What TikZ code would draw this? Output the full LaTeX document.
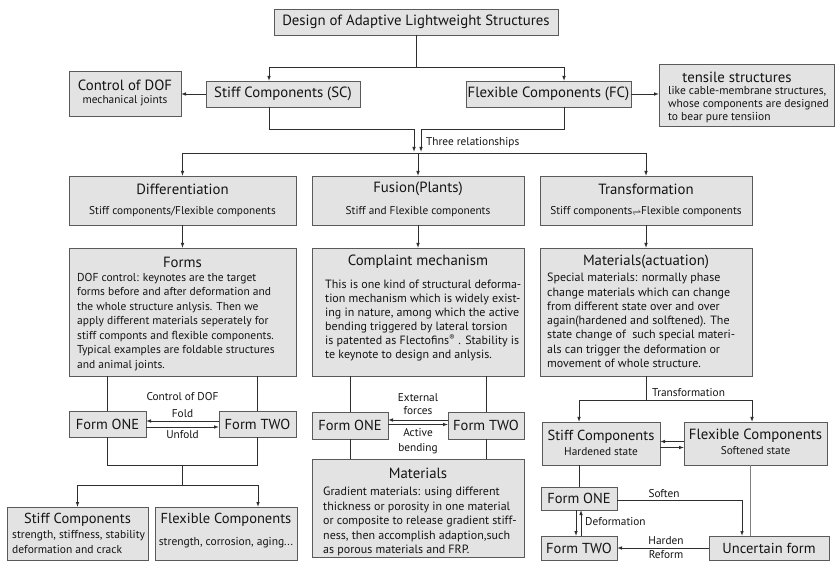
\documentclass[tikz,border=0pt]{standalone}
\usepackage{fontspec}
\usepackage{graphicx}
\setmainfont{PT Sans}
\usetikzlibrary{arrows.meta,calc}
\definecolor{boxfill}{HTML}{E3E3E3}
\definecolor{boxline}{HTML}{5A5A5A}
\definecolor{linecol}{HTML}{2E2E2E}
\definecolor{txtcol}{HTML}{141414}
\newcommand{\fsz}[2]{\fontsize{#1}{#2}\selectfont}
\begin{document}
\begin{tikzpicture}[x=1pt,y=-1pt,
  every node/.style={text=txtcol},
  box/.style={draw=boxline, fill=boxfill, line width=0.9pt, inner sep=0pt, outer sep=0pt, anchor=north west},
  ttl/.style={inner sep=0pt, font=\fsz{14.8}{16}},
  big/.style={inner sep=0pt, font=\fsz{14.5}{16}},
  sub/.style={inner sep=0pt, font=\fsz{11.3}{13}},
  body/.style={inner sep=0pt, align=left, anchor=north west},
  lbl/.style={inner sep=0pt, font=\fsz{11.3}{13}},
  ln/.style={draw=linecol, line width=0.9pt},
  arr/.style={ln, -{Latex[length=5pt,width=3.6pt]}},
]
\useasboundingbox (0,0) rectangle (836,561);
\fill[white] (0,0) rectangle (836,561);

% ---------- top level ----------
\node[box, minimum width=284, minimum height=26] (title) at (274,9) {};
\node[ttl] (titlet) at (416,22) {Design of Adaptive Lightweight Structures};

\node[box, minimum width=112, minimum height=45] (ctrl) at (69,71) {};
\node[ttl] (ctrlt) at (125,85) {Control of DOF};
\node[sub] (ctrls) at (125,101) {mechanical joints};

\node[box, minimum width=154, minimum height=26] (sc) at (206,81) {};
\node[ttl] (sct) at (283,94) {Stiff Components (SC)};

\node[box, minimum width=165, minimum height=26] (fc) at (466,81) {};
\node[ttl] (fct) at (548.5,94) {Flexible Components (FC)};

\node[box, minimum width=175, minimum height=62] (tens) at (659,64) {};
\node[ttl] (tenst) at (737,77) {tensile structures};
\node[body, font=\fsz{11.5}{13}] (tensb) at (668,86) {like cable-membrane structures,\\whose components are designed\\to bear pure tensiion};

\coordinate (rel) at (418,153);

\draw[arr] ($(title.south)+(0,32)$) -| ($(sc.north)+(-14,0)$);
\draw[arr] (title.south) -- ++(0,32) -| ($(fc.north)+(15.5,0)$);
\draw[arr] (sc.west) -- (sc.west -| ctrl.east);
\draw[arr] (fc.east) -- (fc.east -| tens.west);
\draw[arr] ($(sc.south)+(-14,0)$) -- ++(0,22) -| ($(rel)+(-4,-1)$);
\draw[arr] ($(fc.south)+(15.5,0)$) -- ++(0,22) -| ($(rel)+(3,-1)$);
\node[lbl, anchor=west] (threel) at (426,143) {Three relationships};

% ---------- three relationships ----------
\node[box, minimum width=227, minimum height=49] (diff) at (69,176) {};
\node[ttl] (difft) at (182.5,189) {Differentiation};
\node[sub] (diffs) at (182.5,212) {Stiff components/Flexible components};

\node[box, minimum width=212, minimum height=49] (fus) at (312,176) {};
\node[ttl] (fust) at (418,189) {Fusion(Plants)};
\node[sub] (fuss) at (418,212) {Stiff and Flexible components};

\node[box, minimum width=212, minimum height=49] (trans) at (540,176) {};
\node[ttl] (transt) at (646,189) {Transformation};
\node[sub] (transs) at (646,212) {Stiff components\raisebox{-0.5pt}{\scalebox{0.8}{$\rightleftharpoons$}}Flexible components};

\draw[ln] (diff.north |- rel) -- (trans.north |- rel);
\draw[arr] (diff.north |- rel) -- (diff.north);
\draw[arr] (rel) -- (fus.north);
\draw[arr] (trans.north |- rel) -- (trans.north);

% ---------- second row ----------
\node[box, minimum width=227, minimum height=128] (forms) at (69,248) {};
\node[ttl] (formst) at (182.5,262) {Forms};
\node[body, font=\fsz{11.5}{14.5}] (formsb) at (77,273) {DOF control: keynotes are the target\\forms before and after deformation and\\the whole structure anlysis. Then we\\apply different materials seperately for\\stiff componts and flexible components.\\Typical examples are foldable structures\\and animal joints.};

\node[box, minimum width=212, minimum height=128] (comp) at (312,248) {};
\node[ttl] (compt) at (418,262) {Complaint mechanism};
\node[body, font=\fsz{12}{14}] (compb) at (325,280) {This is one kind of structural deforma-\\tion mechanism which is widely exist-\\ing in nature, among which the active\\bending triggered by lateral torsion\\is patented as Flectofins\textsuperscript{®} . Stability is\\te keynote to design and anlysis.};

\node[box, minimum width=212, minimum height=128] (mact) at (540,248) {};
\node[ttl] (mactt) at (646,262) {Materials(actuation)};
\node[body, font=\fsz{12}{14.3}] (mactb) at (547,273) {Special materials: normally phase\\change materials which can change\\from different state over and over\\again(hardened and solftened). The\\state change of\ \ such special materi-\\als can trigger the deformation or\\movement of whole structure.};

\draw[arr] (diff.south) -- (forms.north);
\draw[arr] (fus.south) -- (comp.north);
\draw[arr] (trans.south) -- (mact.north);

% ---------- bottom left ----------
\node[box, minimum width=77, minimum height=26] (oneL) at (69,411) {};
\node[big] (oneLt) at (107.5,424) {Form ONE};
\node[box, minimum width=77, minimum height=26] (twoL) at (219,411) {};
\node[big] (twoLt) at (257.5,424) {Form TWO};
\node[lbl] (cdofl) at (182.5,397) {Control of DOF};
\node[lbl] (foldl) at (182.5,414) {Fold};
\node[lbl] (unfoldl) at (182.5,435) {Unfold};

\draw[ln] (forms.south -| oneL.north) -- (oneL.north);
\draw[ln] (forms.south -| twoL.north) -- (twoL.north);
\draw[arr] ($(twoL.west)+(0,-3)$) -- ($(oneL.east)+(0,-3)$);
\draw[arr] ($(oneL.east)+(0,3)$) -- ($(twoL.west)+(0,3)$);
\draw[ln] (oneL.south) -- ++(0,28) -| (twoL.south);
\coordinate (jL) at ($(oneL.south)!0.5!(twoL.south)+(0,28)$);
\coordinate (jL2) at ($(jL)+(0,20)$);
\draw[ln] (jL) -- (jL2);

\node[box, minimum width=141, minimum height=53] (scb) at (7,507) {};
\node[big] (scbt) at (77.5,520) {Stiff Components};
\node[body, font=\fsz{11.5}{15}] (scbb) at (12,530) {strength, stiffness, stability\\deformation and crack};
\node[box, minimum width=142, minimum height=53] (fcb) at (155,507) {};
\node[big] (fcbt) at (226,520) {Flexible Components};
\node[lbl, font=\fsz{11.5}{13}] (fcbb) at (226,543) {strength, corrosion, aging...};

\draw[arr] (jL2) -| (scb.north);
\draw[arr] (jL2) -| ($(fcb.north)+(32,0)$);

% ---------- bottom middle ----------
\node[box, minimum width=76, minimum height=27] (oneM) at (312,412) {};
\node[big] (oneMt) at (350,425.5) {Form ONE};
\node[box, minimum width=76, minimum height=27] (twoM) at (448,412) {};
\node[big] (twoMt) at (486,425.5) {Form TWO};
\node[lbl, align=center, font=\fsz{11.3}{13}] (extl) at (418,404.5) {External\\forces};
\node[lbl, align=center, font=\fsz{11.3}{15}] (actl) at (418,441.5) {Active\\bending};

\draw[ln] (comp.south -| oneM.north) -- (oneM.north);
\draw[ln] (comp.south -| twoM.north) -- (twoM.north);
\draw[arr] ($(twoM.west)+(0,-5.5)$) -- ($(oneM.east)+(0,-5.5)$);
\draw[arr] ($(oneM.east)+(0,-1)$) -- ($(twoM.west)+(0,-1)$);

\node[box, minimum width=212, minimum height=98] (mats) at (312,459) {};
\node[ttl] (matst) at (418,473) {Materials};
\node[body, font=\fsz{12}{14.5}] (matsb) at (323,487) {Gradient materials: using different\\thickness or porosity in one material\\or composite to release gradient stiff-\\ness, then accomplish adaption,such\\as porous materials and FRP.};

\draw[ln] (oneM.south) -- (oneM.south |- mats.north);
\draw[ln] (twoM.south) -- (twoM.south |- mats.north);

% ---------- bottom right ----------
\coordinate (jR) at ($(mact.south)+(0,24)$);
\draw[ln] (mact.south) -- (jR);
\node[lbl, anchor=west] (transl) at (652,393) {Transformation};

\node[box, minimum width=118, minimum height=43] (scr) at (542,422) {};
\node[big] (scrt) at (601,437) {Stiff Components};
\node[sub] (scrs) at (601,452) {Hardened state};
\node[box, minimum width=143, minimum height=43] (fcr) at (684,422) {};
\node[ttl] (fcrt) at (755.5,436) {Flexible Components};
\node[sub] (fcrs) at (755.5,451) {Softened state};

\draw[arr] (jR) -| ($(scr.north)+(-22,0)$);
\draw[arr] (jR) -| ($(fcr.north)+(-3.5,0)$);
\draw[arr] ($(fcr.west)+(0,-2)$) -- ($(scr.east)+(0,-2)$);
\draw[arr] ($(scr.east)+(0,4)$) -- ($(fcr.west)+(0,4)$);

\node[box, minimum width=76, minimum height=23] (oneR) at (541,487) {};
\node[big] (oneRt) at (579,498.5) {Form ONE};
\node[box, minimum width=76, minimum height=24] (twoR) at (541,536) {};
\node[big] (twoRt) at (579,548) {Form TWO};
\node[box, minimum width=120, minimum height=24] (unc) at (709,536) {};
\node[big] (unct) at (769,548) {Uncertain form};

\draw[ln] (scr.south -| oneR.north) -- (oneR.north);
\draw[arr] ($(oneR.south)+(-3,0)$) -- ($(twoR.north)+(-3,0)$);
\draw[arr] ($(twoR.north)+(2,0)$) -- ($(oneR.south)+(2,0)$);
\node[lbl, anchor=west] (deforml) at (585,522) {Deformation};

\draw[arr] ($(oneR.east)+(0,2)$) -| ($(unc.north)+(-27,0)$);
\node[lbl] (softl) at (664,494) {Soften};
\draw[ln, draw=gray] ($(fcr.south)+(-5.5,0)$) -- ($(unc.north)+(-19,0)$);
\draw[arr] (unc.west) -- (unc.west -| twoR.east);
\node[lbl] (hardl) at (666,541) {Harden};
\node[lbl] (refl) at (666,555) {Reform};
\end{tikzpicture}
\end{document}
